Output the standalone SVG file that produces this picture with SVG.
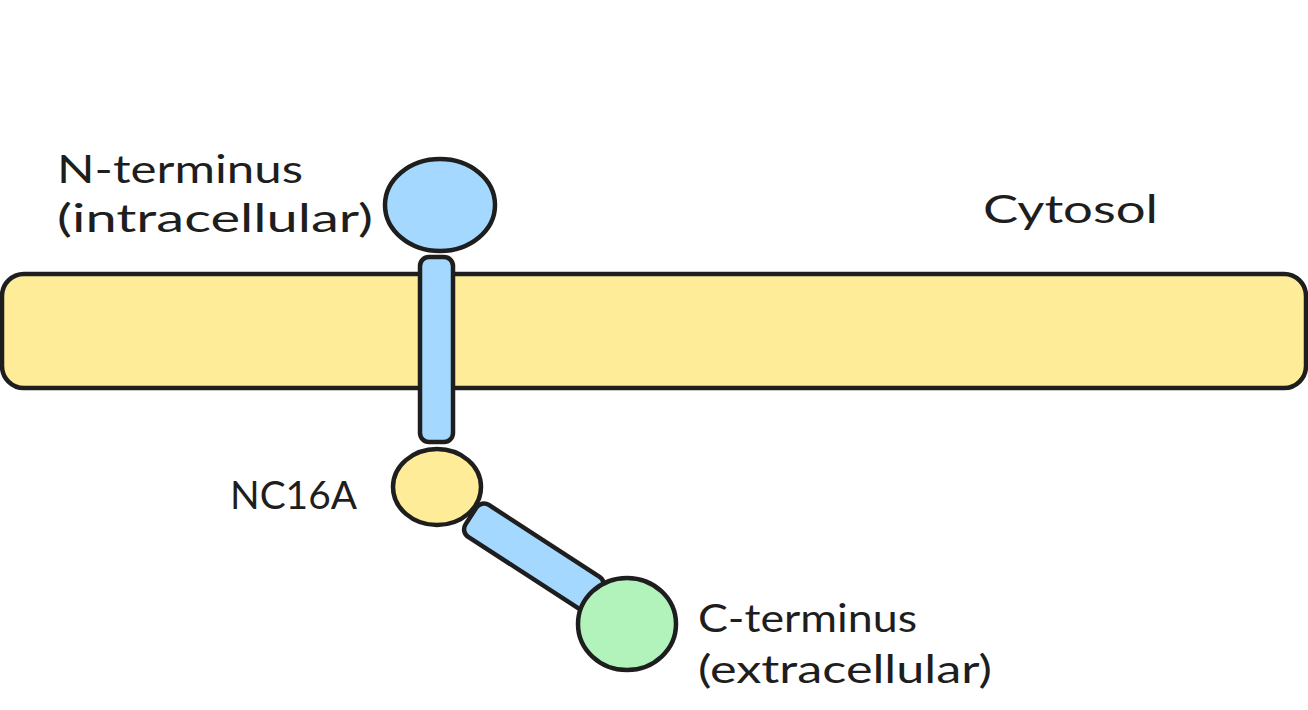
<svg xmlns="http://www.w3.org/2000/svg" width="1308" height="710" viewBox="0 0 1308 710">
<style>
.s{stroke:#1e1e1e;stroke-width:4.5;stroke-linejoin:round}
.blue{fill:#a5d8ff}
.yellow{fill:#ffec99}
.green{fill:#b2f2bb}
.t{font-family:Lato,"Open Sans",sans-serif;font-size:38px;fill:#1e1e1e}
</style>
<rect width="1308" height="710" fill="#ffffff"/>
<g id="membrane">
<rect class="s yellow" x="2" y="274" width="1304" height="114" rx="22"/>
</g>
<g id="connectors">
<rect id="stick-vertical" class="s blue" x="420" y="257" width="33" height="185" rx="9"/>
</g>
<g id="n-terminus">
<ellipse class="s blue" cx="440" cy="205" rx="55" ry="46"/>
</g>
<g id="nc16a">
<ellipse class="s yellow" cx="437" cy="487" rx="44" ry="38"/>
</g>
<g id="stick-diagonal-group">
<rect id="stick-diagonal" class="s blue" x="0" y="-19" width="150" height="38" rx="9" transform="translate(471 516) rotate(33)"/>
</g>
<g id="c-terminus">
<ellipse class="s green" cx="627" cy="624" rx="49" ry="46"/>
</g>
<g id="labels">
<text class="t" x="57" y="183" textLength="246" lengthAdjust="spacingAndGlyphs">N-terminus</text>
<text class="t" x="57" y="232" textLength="316" lengthAdjust="spacingAndGlyphs">(intracellular)</text>
<text class="t" x="983" y="223" textLength="175" lengthAdjust="spacingAndGlyphs">Cytosol</text>
<text class="t" x="230" y="509" textLength="127" lengthAdjust="spacingAndGlyphs">NC16A</text>
<text class="t" x="698" y="632" textLength="219" lengthAdjust="spacingAndGlyphs">C-terminus</text>
<text class="t" x="698" y="683" textLength="294" lengthAdjust="spacingAndGlyphs">(extracellular)</text>
</g>
</svg>
